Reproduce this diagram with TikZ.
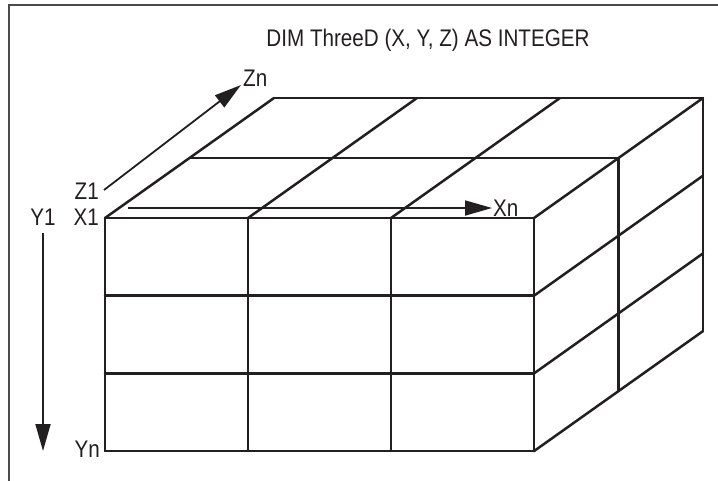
\documentclass[tikz,border=0pt]{standalone}
\usepackage{fontspec}
\setmainfont{Liberation Sans}[FakeStretch=0.86]
\usepackage{xcolor}
\usepackage{tikz}
\usetikzlibrary{arrows.meta,positioning,calc}
\definecolor{inkdark}{HTML}{231F20}
\definecolor{framegray}{HTML}{4A4A4A}
\tikzset{
    cubeline/.style={draw=inkdark, line width=2.5pt, line cap=round, line join=round},
    axisarrow/.style={draw=inkdark, line width=1.8pt,
        -{Triangle[length=27pt, width=15pt]}},
    axislabel/.style={font=\fontsize{24}{28}\selectfont, color=inkdark, inner sep=1pt},
}

\begin{document}
\begin{tikzpicture}[x=1pt, y=-1pt]

    % ── Canvas and frame ───────────────────────────────────────────────────
    \useasboundingbox[fill=white] (0,0) rectangle (718,480);
    \draw[framegray, line width=2pt] (9,490) -- (9,5) -- (730,5);

    % ── Title ──────────────────────────────────────────────────────────────
    \node[axislabel] (title) at (428,40) {DIM ThreeD (X, Y, Z) AS INTEGER};

    % ── Front face (3 x 3) ─────────────────────────────────────────────────
    \foreach \i in {0,...,3} {
        \draw[cubeline] ({105+143*\i},218) -- ({105+143*\i},451);
        \draw[cubeline] (105,{218+77.7*\i}) -- (534,{218+77.7*\i});
    }

    % ── Top face (depth 2) ─────────────────────────────────────────────────
    \foreach \i in {0,...,3}
        \draw[cubeline] ({105+143*\i},218) -- ++(169,-120);
    \foreach \k in {1,2}
        \draw[cubeline] ({105+84.5*\k},{218-60*\k}) -- ++(429,0);

    % ── Right face ─────────────────────────────────────────────────────────
    \foreach \k in {1,2}
        \draw[cubeline] ({534+84.5*\k},{218-60*\k}) -- ++(0,233);
    \foreach \i in {1,...,3}
        \draw[cubeline] (534,{218+77.7*\i}) -- ++(169,-120);

    % ── Axis labels ────────────────────────────────────────────────────────
    \node[axislabel, anchor=east] (z1) at (100,191) {Z1};
    \node[axislabel, anchor=east] (x1) at (100,217) {X1};
    \node[axislabel] (y1) at (43,217) {Y1};
    \node[axislabel, anchor=east] (yn) at (101,449) {Yn};
    \node[axislabel, anchor=west] (zn) at (242,78) {Zn};
    \node[axislabel, anchor=west] (xn) at (492,208) {Xn};

    % ── Axis arrows ────────────────────────────────────────────────────────
    \coordinate (zstart) at (104,190);
    \coordinate (zend)   at (241,85);
    \coordinate (xstart) at (128,208);
    \coordinate (ystart) at (43,233);
    \coordinate (yend)   at (43,451);

    \draw[axisarrow] (zstart) -- (zend);
    \draw[axisarrow] (xstart) -- (xn.west);
    \draw[axisarrow] (ystart) -- (yend);

\end{tikzpicture}
\end{document}
